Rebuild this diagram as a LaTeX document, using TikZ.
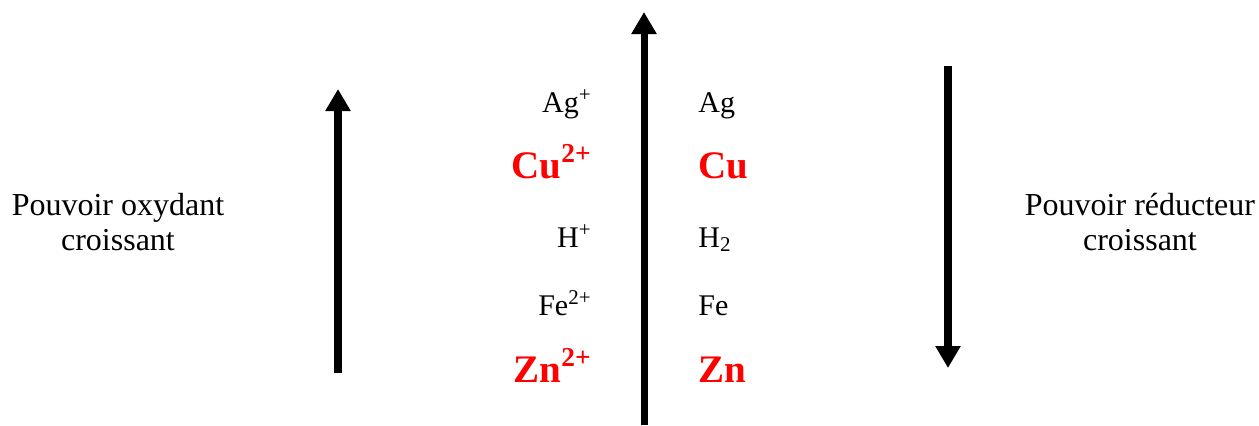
\documentclass[tikz,border=0pt]{standalone}
\usepackage{fontspec}
\setmainfont{Liberation Serif}
\usetikzlibrary{arrows.meta, positioning}
\tikzset{
    % Thick vertical arrows
    big arrow/.style={line width=4pt, -{Triangle[length=11pt, width=12pt]}},
    % Species in the left column (oxidants)
    ox/.style={anchor=base east, inner sep=0pt, font=\fontsize{15}{18}\selectfont},
    % Species in the right column (reducers)
    red/.style={anchor=base west, inner sep=0pt, font=\fontsize{15}{18}\selectfont},
    % Highlighted couples
    hot/.style={text=red, font=\fontsize{19.5}{22}\selectfont\bfseries},
    % Side captions
    caption/.style={align=center, font=\fontsize{16}{17.5}\selectfont}
}

\begin{document}
\begin{tikzpicture}[x=0.5pt, y=-0.5pt]
    \useasboundingbox (0,0) rectangle (1259,425);

    % --- Arrows ---
    \coordinate (Lbot) at (338,373);
    \coordinate (Ltop) at (338,89);
    \coordinate (Cbot) at (644,425);
    \coordinate (Ctop) at (644,12);
    \coordinate (Rtop) at (948,66);
    \coordinate (Rbot) at (948,368);
    \draw[big arrow] (Lbot) -- (Ltop);
    \draw[big arrow, line width=3.5pt] (Cbot) -- (Ctop);
    \draw[big arrow] (Rtop) -- (Rbot);

    % --- Oxidants ---
    \node[ox] (Agp) at (592,112) {Ag\textsuperscript{+}};
    \node[ox, hot] (Cup) at (592,178) {Cu\textsuperscript{2+}};
    \node[ox] (Hp) at (592,247) {H\textsuperscript{+}};
    \node[ox] (Fep) at (592,315) {Fe\textsuperscript{2+}};
    \node[ox, hot] (Znp) at (592,382) {Zn\textsuperscript{2+}};

    % --- Reducers ---
    \node[red] (Ag) at (698,112) {Ag};
    \node[red, hot] (Cu) at (698,178) {Cu};
    \node[red] (H2) at (698,247) {H\textsubscript{2}};
    \node[red] (Fe) at (698,315) {Fe};
    \node[red, hot] (Zn) at (698,382) {Zn};

    % --- Captions ---
    \node[caption] (oxcap) at (118,222) {Pouvoir oxydant\\croissant};
    \node[caption] (redcap) at (1140,222) {Pouvoir réducteur\\croissant};
\end{tikzpicture}
\end{document}
